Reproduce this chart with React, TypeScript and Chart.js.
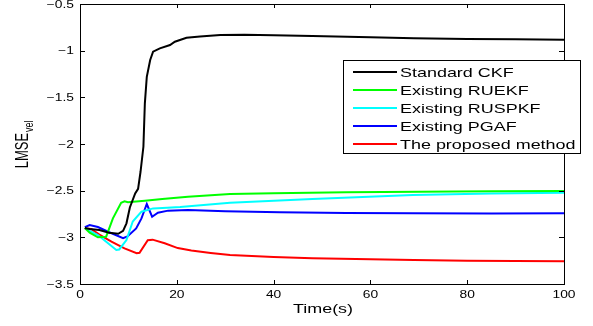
import React, { useEffect, useRef } from "react";
import { Chart, registerables } from "chart.js";

Chart.register(...registerables);

// ---------- data ----------
const seriesLabels = [
  "Standard CKF",
  "Existing RUEKF",
  "Existing RUSPKF",
  "Existing PGAF",
  "The proposed method",
];
const seriesColors = ["#000000", "#00ff00", "#00ffff", "#0000ff", "#ff0000"];

const ckfT = [1, 2, 4, 6, 7.9, 8.9, 9.6, 10.3, 11.4, 12, 12.5, 13.1, 13.4, 13.8, 14.5, 15.1, 16.5, 18.6, 19.6, 22, 24.8, 29, 34, 40, 48, 60, 69, 80, 90, 100];
const ckfV = [-2.9, -2.91, -2.921, -2.95, -2.962, -2.93, -2.85, -2.68, -2.53, -2.48, -2.3, -2.03, -1.564, -1.28, -1.1, -1.01, -0.975, -0.94, -0.904, -0.862, -0.848, -0.832, -0.829, -0.834, -0.843, -0.857, -0.866, -0.874, -0.879, -0.882];

const ruekfT = [1, 2, 3.7, 5.4, 6.8, 8.5, 9.2, 9.9, 11, 13.4, 17, 22.3, 31, 40, 55, 70, 85, 100];
const ruekfV = [-2.9, -2.95, -3.0, -2.993, -2.797, -2.629, -2.615, -2.625, -2.62, -2.607, -2.59, -2.564, -2.536, -2.527, -2.518, -2.512, -2.507, -2.504];

const ruspkfT = [1, 2, 3.7, 5.8, 7.5, 8.1, 9.6, 10.9, 12.7, 15.1, 18, 20.7, 31, 48, 68.8, 85, 100];
const ruspkfV = [-2.9, -2.93, -2.975, -3.064, -3.136, -3.13, -3.03, -2.83, -2.725, -2.69, -2.683, -2.675, -2.629, -2.589, -2.546, -2.53, -2.522];

const pgafT = [1, 2, 3.7, 5.8, 8.9, 9.8, 11.6, 12.7, 13.8, 14.9, 16.1, 18.2, 22.3, 30, 41.3, 55, 68.8, 85, 100];
const pgafV = [-2.89, -2.868, -2.89, -2.94, -3.01, -2.99, -2.904, -2.797, -2.643, -2.779, -2.736, -2.714, -2.707, -2.72, -2.732, -2.738, -2.743, -2.745, -2.743];

const propT = [1, 2.3, 4, 6.5, 9.2, 11.7, 12.3, 14, 15, 17.5, 20.2, 23, 27, 31, 40, 48, 60, 69, 80, 90, 100];
const propV = [-2.904, -2.91, -2.97, -3.047, -3.118, -3.17, -3.165, -3.03, -3.025, -3.064, -3.115, -3.14, -3.167, -3.19, -3.21, -3.225, -3.235, -3.243, -3.25, -3.254, -3.257];

const seriesT = [ckfT, ruekfT, ruspkfT, pgafT, propT];
const seriesV = [ckfV, ruekfV, ruspkfV, pgafV, propV];

const xTickLabels = ["0", "20", "40", "60", "80", "100"];
const yTickLabels = ["\u22123.5", "\u22123", "\u22122.5", "\u22122", "\u22121.5", "\u22121", "\u22120.5"];
const xTitle = "Time(s)";
const yTitleMain = "LMSE";
const yTitleSub = "vel";

// ---------- styling ----------
const STRETCH = 1.38;
const FONT_FAMILY = "'Liberation Sans', Arial, sans-serif";

function stretchedText(
  ctx: CanvasRenderingContext2D,
  text: string,
  x: number,
  y: number,
  align: CanvasTextAlign,
  size: number
) {
  ctx.save();
  ctx.translate(x, y);
  ctx.scale(STRETCH, 1);
  ctx.font = `${size}px ${FONT_FAMILY}`;
  ctx.textAlign = align;
  ctx.textBaseline = "alphabetic";
  ctx.fillStyle = "#000";
  ctx.fillText(text, 0, 0);
  ctx.restore();
}

const framePlugin = {
  id: "matlabFrame",
  afterDraw(chart: any) {
    const ctx: CanvasRenderingContext2D = chart.ctx;
    const { left, right, top, bottom } = chart.chartArea;
    const xs = chart.scales.x;
    const ys = chart.scales.y;
    ctx.save();
    ctx.strokeStyle = "#000";
    ctx.lineWidth = 1;
    // box
    ctx.strokeRect(Math.round(left) + 0.5, Math.round(top) + 0.5, Math.round(right - left), Math.round(bottom - top));
    // ticks
    ctx.beginPath();
    xs.ticks.forEach((t: any) => {
      const px = Math.round(xs.getPixelForValue(t.value)) + 0.5;
      ctx.moveTo(px, bottom);
      ctx.lineTo(px, bottom - 4);
      ctx.moveTo(px, top);
      ctx.lineTo(px, top + 4);
    });
    ys.ticks.forEach((t: any) => {
      const py = Math.round(ys.getPixelForValue(t.value)) + 0.5;
      ctx.moveTo(left, py);
      ctx.lineTo(left + 5, py);
      ctx.moveTo(right, py);
      ctx.lineTo(right - 5, py);
    });
    ctx.stroke();
    // tick labels
    xs.ticks.forEach((t: any, i: number) => {
      const px = xs.getPixelForValue(t.value);
      stretchedText(ctx, xTickLabels[i] ?? String(t.value), px, bottom + 13.7, "center", 10);
    });
    ys.ticks.forEach((t: any, i: number) => {
      const py = ys.getPixelForValue(t.value);
      stretchedText(ctx, yTickLabels[i] ?? String(t.value), left - 6, py + 3.6, "right", 10);
    });
    // x title
    stretchedText(ctx, xTitle, (left + right) / 2 + 1, 312.5, "center", 13);
    // y title (rotated, glyph heights stretched horizontally)
    ctx.save();
    ctx.translate(27.5, 168.3);
    ctx.scale(STRETCH, 1);
    ctx.rotate(-Math.PI / 2);
    ctx.fillStyle = "#000";
    ctx.textBaseline = "alphabetic";
    ctx.textAlign = "left";
    ctx.font = `13px ${FONT_FAMILY}`;
    ctx.fillText(yTitleMain, 0, 0);
    const w = ctx.measureText(yTitleMain).width;
    ctx.font = `9px ${FONT_FAMILY}`;
    ctx.fillText(yTitleSub, w + 1, 4);
    ctx.restore();
    // legend
    const lx = 343.5, ly = 60.5, lw = 237, lh = 93;
    ctx.fillStyle = "#fff";
    ctx.fillRect(lx, ly, lw, lh);
    ctx.strokeStyle = "#000";
    ctx.lineWidth = 1;
    ctx.strokeRect(lx, ly, lw, lh);
    chart.data.datasets.forEach((ds: any, i: number) => {
      const yy = 72 + i * 18;
      ctx.strokeStyle = ds.borderColor;
      ctx.lineWidth = 2;
      ctx.beginPath();
      ctx.moveTo(353, yy);
      ctx.lineTo(397, yy);
      ctx.stroke();
      stretchedText(ctx, ds.label, 400, yy + 4.7, "left", 13);
    });
    ctx.restore();
  },
};

export default function App() {
  const ref = useRef<HTMLCanvasElement | null>(null);
  useEffect(() => {
    if (!ref.current) return;
    const datasets = seriesLabels.map((label, i) => ({
      label,
      data: seriesT[i].map((t, k) => ({ x: t, y: seriesV[i][k] })),
      borderColor: seriesColors[i],
      backgroundColor: seriesColors[i],
      borderWidth: 2,
      pointRadius: 0,
      tension: 0,
      fill: false,
    }));
    const chart = new Chart(ref.current, {
      type: "line",
      data: { datasets },
      options: {
        responsive: false,
        animation: false,
        events: [],
        layout: { padding: { top: 4, right: 29, left: 0, bottom: 0 } },
        plugins: { legend: { display: false }, tooltip: { enabled: false }, title: { display: false } },
        scales: {
          x: {
            type: "linear",
            min: 0,
            max: 100,
            ticks: { stepSize: 20, display: false },
            grid: { display: false },
            border: { display: false },
            afterFit: (s: any) => {
              s.height = 42;
            },
          },
          y: {
            type: "linear",
            min: -3.5,
            max: -0.5,
            ticks: { stepSize: 0.5, display: false },
            grid: { display: false },
            border: { display: false },
            afterFit: (s: any) => {
              s.width = 80;
            },
          },
        },
      },
      plugins: [framePlugin],
    });
    return () => chart.destroy();
  }, []);
  return (
    <div style={{ position: "absolute", left: 0, top: 0, width: 593, height: 326, background: "#fff" }}>
      <canvas ref={ref} width={593} height={326} />
    </div>
  );
}
